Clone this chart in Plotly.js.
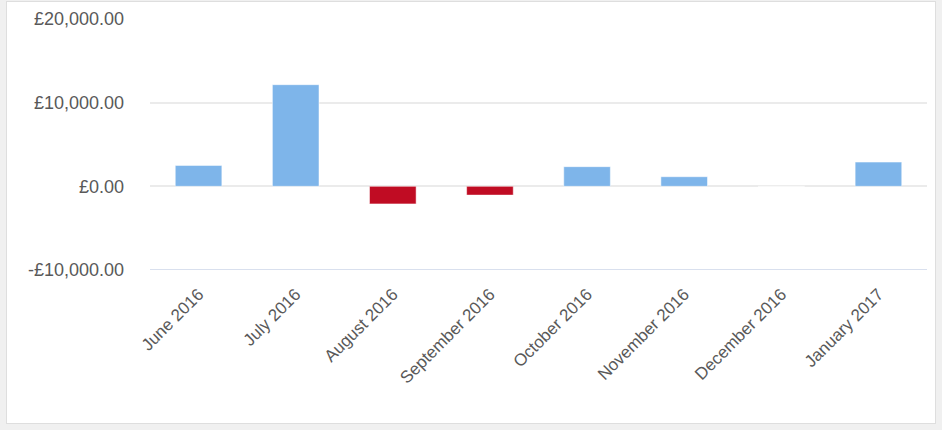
<!DOCTYPE html>
<html>
<head>
<meta charset="utf-8">
<script src="https://cdn.plot.ly/plotly-3.0.1.min.js"></script>
<style>
  html, body { margin: 0; padding: 0; background: #f0f0f0; width: 942px; height: 430px; overflow: hidden; }
  #frame { position: absolute; left: 6px; top: 1px; width: 928px; height: 421px; border: 1px solid #dedede; background: #ffffff; }
  #chart { width: 928px; height: 421px; }
</style>
</head>
<body>
<div id="frame"><div id="chart"></div></div>
<script>
const months = ["June 2016", "July 2016", "August 2016", "September 2016", "October 2016", "November 2016", "December 2016", "January 2017"];
const values = [2500, 12150, -2100, -1050, 2350, 1150, 0, 2900];
const yTickVals = [-10000, 0, 10000, 20000];
const yTickText = ["-£10,000.00", "£0.00", "£10,000.00", "£20,000.00"];

const colors = values.map(v => v < 0 ? "#c00c23" : "#7eb5ea");

const trace = {
  type: "bar",
  x: months,
  y: values,
  marker: { color: colors, line: { color: "rgba(255,255,255,0.5)", width: 1 } },
  hoverinfo: "x+y"
};

const layout = {
  width: 928,
  height: 421,
  margin: { l: 143, r: 8, t: 17, b: 153 },
  paper_bgcolor: "#ffffff",
  plot_bgcolor: "#ffffff",
  bargap: 0.52,
  showlegend: false,
  font: { family: "Liberation Sans, Arial, sans-serif", color: "#595959" },
  xaxis: {
    tickangle: -45,
    tickfont: { size: 17, color: "#595959" },
    showgrid: false,
    showline: false,
    zeroline: false,
    ticks: "",
    ticklabelstandoff: 10
  },
  yaxis: {
    range: [-10000, 20000],
    tickvals: yTickVals,
    ticktext: yTickText,
    tickfont: { size: 18, color: "#595959" },
    showgrid: true,
    gridcolor: "#ebebeb",
    gridwidth: 2,
    zeroline: true,
    zerolinecolor: "#ebebeb",
    zerolinewidth: 2,
    showline: false,
    ticks: "",
    ticklabelstandoff: 25
  },
  shapes: [{
    type: "line", xref: "paper", yref: "y", x0: 0, x1: 1, y0: -10000, y1: -10000,
    line: { color: "#d9e0ee", width: 2 }, layer: "below"
  }]
};

Plotly.newPlot("chart", [trace], layout, { displayModeBar: false, staticPlot: true });
</script>
</body>
</html>
